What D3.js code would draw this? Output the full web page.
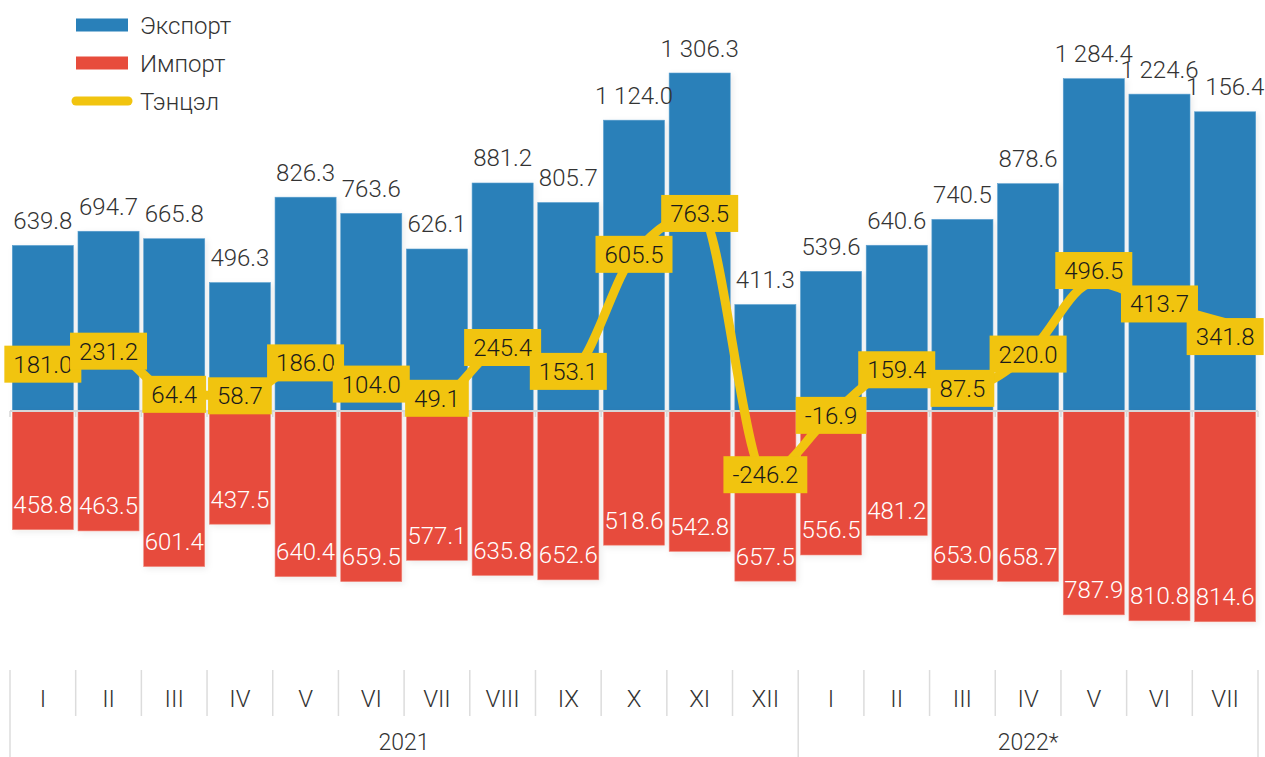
<!DOCTYPE html>
<html>
<head>
<meta charset="utf-8">
<script src="https://cdn.jsdelivr.net/npm/d3@7"></script>
<style>
  body { margin: 0; background: #fff; }
  text { font-family: Roboto, "Noto Sans", sans-serif; font-weight: 300; }
</style>
</head>
<body>
<div id="chart"></div>
<script>
// chart data
var months = ["I","II","III","IV","V","VI","VII","VIII","IX","X","XI","XII",
              "I","II","III","IV","V","VI","VII"];
var years = ["2021", "2022*"];
var yearOf = [0,0,0,0,0,0,0,0,0,0,0,0,1,1,1,1,1,1,1];
var exportVals = [639.8, 694.7, 665.8, 496.3, 826.3, 763.6, 626.1, 881.2, 805.7, 1124.0,
                  1306.3, 411.3, 539.6, 640.6, 740.5, 878.6, 1284.4, 1224.6, 1156.4];
var importVals = [458.8, 463.5, 601.4, 437.5, 640.4, 659.5, 577.1, 635.8, 652.6, 518.6,
                  542.8, 657.5, 556.5, 481.2, 653.0, 658.7, 787.9, 810.8, 814.6];
var balanceVals = [181.0, 231.2, 64.4, 58.7, 186.0, 104.0, 49.1, 245.4, 153.1, 605.5,
                   763.5, -246.2, -16.9, 159.4, 87.5, 220.0, 496.5, 413.7, 341.8];
var seriesNames = ["Экспорт", "Импорт", "Тэнцэл"];

var width = 1265, height = 757;
var blue = "#2980b9", red = "#e74c3c", yellow = "#f1c40f";
var fs = 24;

// nudges so balance labels don't collide
var labelShift = {16: -12, 18: 14};

var fmt = d3.formatLocale({decimal: ".", thousands: " ", grouping: [3], currency: ["", ""]})
  .format(",.1f");

var svg = d3.select("#chart").append("svg")
  .attr("width", width)
  .attr("height", height);

var defs = svg.append("defs");
var f = defs.append("filter").attr("id", "shadow")
  .attr("x", "-20%").attr("y", "-20%").attr("width", "140%").attr("height", "140%");
f.append("feDropShadow").attr("dx", 2).attr("dy", 2).attr("stdDeviation", 3)
  .attr("flood-color", "#000").attr("flood-opacity", 0.08);

var idx = d3.range(months.length);

var x = d3.scaleBand()
  .domain(idx)
  .range([10, 1258])
  .paddingInner(0.07)
  .paddingOuter(0.035);

var y = d3.scaleLinear()
  .domain([0, 1306.3])
  .range([411, 73]);

var step = x.step();
function left(i) { return x(i) - x.paddingInner() * step / 2; }

// export bars
svg.append("g").selectAll("rect")
  .data(idx).enter().append("rect")
    .attr("x", function(i) { return x(i); })
    .attr("y", function(i) { return y(exportVals[i]); })
    .attr("width", x.bandwidth())
    .attr("height", function(i) { return y(0) - y(exportVals[i]); })
    .attr("fill", blue)
    .attr("stroke", "#5b9fcf").attr("stroke-width", 0.6)
    .attr("filter", "url(#shadow)");

// import bars
svg.append("g").selectAll("rect")
  .data(idx).enter().append("rect")
    .attr("x", function(i) { return x(i); })
    .attr("y", y(0))
    .attr("width", x.bandwidth())
    .attr("height", function(i) { return y(0) - y(importVals[i]); })
    .attr("fill", red)
    .attr("stroke", "#f08a7f").attr("stroke-width", 0.6)
    .attr("filter", "url(#shadow)");

// zero line + little ticks
svg.append("line")
  .attr("x1", 10).attr("x2", 1258)
  .attr("y1", y(0)).attr("y2", y(0))
  .attr("stroke", "#d6d6d6").attr("stroke-width", 2);
svg.append("g").selectAll("line")
  .data(d3.range(months.length + 1)).enter().append("line")
    .attr("x1", function(i) { return i < months.length ? left(i) : 1258; })
    .attr("x2", function(i) { return i < months.length ? left(i) : 1258; })
    .attr("y1", y(0)).attr("y2", y(0) + 6)
    .attr("stroke", "#d6d6d6").attr("stroke-width", 1.5);

// export labels
svg.append("g").selectAll("text")
  .data(idx).enter().append("text")
    .attr("x", function(i) { return x(i) + x.bandwidth() / 2; })
    .attr("y", function(i) { return y(exportVals[i]) - 16.5; })
    .attr("text-anchor", "middle")
    .attr("font-size", fs)
    .attr("fill", "#333")
    .text(function(i) { return fmt(exportVals[i]); });

// import labels
svg.append("g").selectAll("text")
  .data(idx).enter().append("text")
    .attr("x", function(i) { return x(i) + x.bandwidth() / 2; })
    .attr("y", function(i) { return y(-importVals[i]) - 16.5; })
    .attr("text-anchor", "middle")
    .attr("font-size", fs)
    .attr("fill", "#fff")
    .text(function(i) { return fmt(importVals[i]); });

// balance line
var line = d3.line()
  .x(function(i) { return x(i) + x.bandwidth() / 2; })
  .y(function(i) { return y(balanceVals[i]); })
  .curve(d3.curveMonotoneX);

svg.append("path")
  .datum(idx)
  .attr("d", line)
  .attr("fill", "none")
  .attr("stroke", yellow)
  .attr("stroke-width", 9)
  .attr("stroke-linejoin", "round");

// balance labels in boxes
var bl = svg.append("g").selectAll("g")
  .data(idx).enter().append("g")
    .attr("transform", function(i) {
      var dy = labelShift[i] || 0;
      return "translate(" + (x(i) + x.bandwidth() / 2) + "," + (y(balanceVals[i]) + dy) + ")";
    });
bl.append("text")
  .attr("text-anchor", "middle")
  .attr("y", 8.5)
  .attr("font-size", fs)
  .attr("fill", "#1a1a1a")
  .text(function(i) { return balanceVals[i] < 0 ? "-" + fmt(-balanceVals[i]) : fmt(balanceVals[i]); });
bl.each(function() {
  var g = d3.select(this);
  var bb = g.select("text").node().getBBox();
  g.insert("rect", "text")
    .attr("x", bb.x - 9).attr("y", -18.5)
    .attr("width", bb.width + 18).attr("height", 37)
    .attr("fill", yellow);
});

// x axis: month separators and labels
var axisTop = 670;
svg.append("g").selectAll("line")
  .data(d3.range(months.length + 1)).enter().append("line")
    .attr("x1", function(i) { return i < months.length ? left(i) : 1258; })
    .attr("x2", function(i) { return i < months.length ? left(i) : 1258; })
    .attr("y1", axisTop)
    .attr("y2", function(i) {
      return (i === 0 || i === months.length || yearOf[i] !== yearOf[i - 1]) ? 757 : 716;
    })
    .attr("stroke", "#dcdcdc").attr("stroke-width", 1.5);

svg.append("g").selectAll("text")
  .data(idx).enter().append("text")
    .attr("x", function(i) { return x(i) + x.bandwidth() / 2; })
    .attr("y", 707)
    .attr("text-anchor", "middle")
    .attr("font-size", fs)
    .attr("fill", "#333")
    .text(function(i) { return months[i]; });

svg.append("g").selectAll("text")
  .data(years).enter().append("text")
    .attr("x", function(d, k) {
      var ids = idx.filter(function(i) { return yearOf[i] === k; });
      var a = left(ids[0]);
      var b = ids[ids.length - 1] === months.length - 1 ? 1258 : left(ids[ids.length - 1] + 1);
      return (a + b) / 2;
    })
    .attr("y", 750)
    .attr("text-anchor", "middle")
    .attr("font-size", 23)
    .attr("fill", "#333")
    .text(function(d) { return d; });

// legend
var legend = svg.append("g");
var lg = legend.selectAll("g")
  .data(seriesNames).enter().append("g")
    .attr("transform", function(d, k) { return "translate(0," + (25 + k * 38) + ")"; });
lg.filter(function(d, k) { return k < 2; }).append("rect")
  .attr("x", 76).attr("y", -6.5)
  .attr("width", 52).attr("height", 13)
  .attr("fill", function(d, k) { return k === 0 ? blue : red; });
lg.filter(function(d, k) { return k === 2; }).append("line")
  .attr("x1", 76).attr("x2", 128)
  .attr("y1", 0).attr("y2", 0)
  .attr("stroke", yellow).attr("stroke-width", 9)
  .attr("stroke-linecap", "round");
lg.append("text")
  .attr("x", 140).attr("y", 8.5)
  .attr("font-size", fs)
  .attr("fill", "#333")
  .text(function(d) { return d; });
</script>
</body>
</html>
